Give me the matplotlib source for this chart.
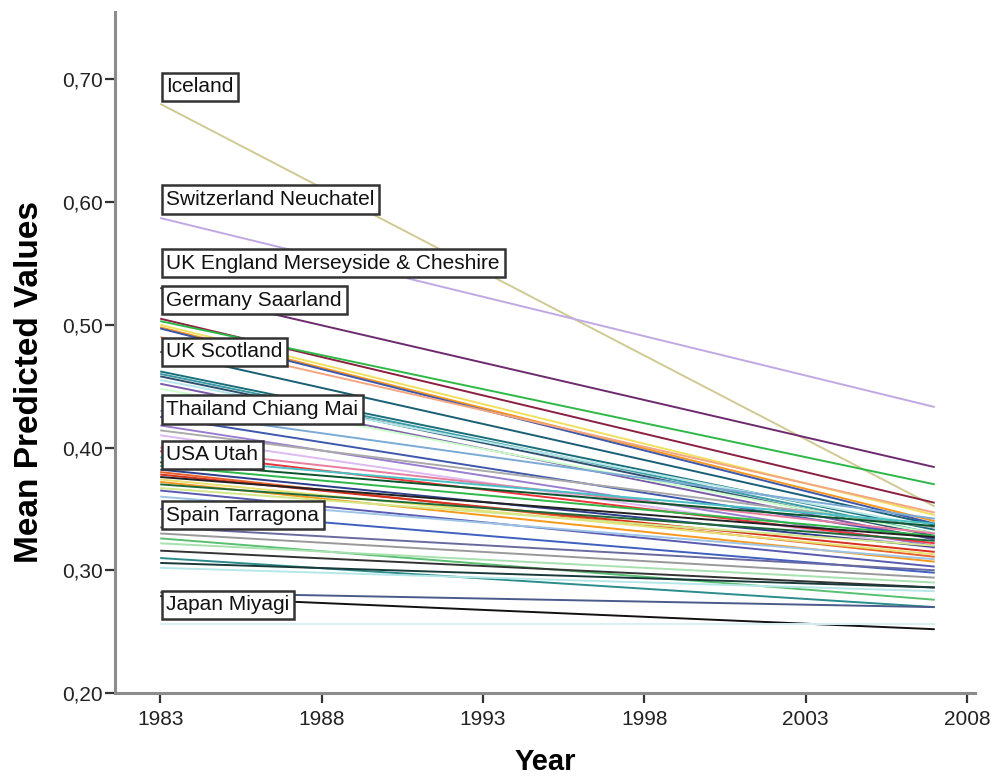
import matplotlib
matplotlib.use("Agg")
import matplotlib.pyplot as plt
from matplotlib.ticker import FuncFormatter

plt.rcParams['font.family'] = ['Liberation Sans', 'DejaVu Sans']

# one straight line per region: predicted value in 1983 and in 2007
years = [1983, 2007]

start_vals = [0.680, 0.587, 0.530, 0.505, 0.503, 0.500, 0.498, 0.497, 0.490,
              0.478, 0.462, 0.460, 0.458, 0.455, 0.452, 0.448,
              0.430, 0.425, 0.418, 0.414, 0.410,
              0.400, 0.397, 0.392, 0.388, 0.385, 0.382,
              0.380, 0.378, 0.376, 0.374, 0.372, 0.370, 0.367, 0.365,
              0.360, 0.350, 0.335, 0.330, 0.326, 0.322, 0.316, 0.310,
              0.306, 0.302, 0.282, 0.279, 0.256]
end_vals = [0.352, 0.433, 0.384, 0.355, 0.370, 0.345, 0.340, 0.338, 0.347,
            0.337, 0.333, 0.330, 0.328, 0.335, 0.325, 0.330,
            0.342, 0.326, 0.320, 0.335, 0.318,
            0.330, 0.322, 0.338, 0.336, 0.328, 0.319,
            0.311, 0.315, 0.327, 0.313, 0.307, 0.324, 0.320, 0.303,
            0.309, 0.298, 0.300, 0.294, 0.276, 0.290, 0.286, 0.270,
            0.286, 0.283, 0.270, 0.252, 0.256]
line_colors = ['#cfca94', '#c0a8e4', '#6e2a6e', '#8b2040', '#2eb848', '#f0e060',
               '#f8981d', '#3e58ac', '#f4a582',
               '#1a5f76', '#1a6e7a', '#3a9ca5', '#2f4f6f', '#b6e7e8', '#7c5ca8',
               '#ccffcc',
               '#7aaad5', '#3e58ac', '#9a7fd1', '#aaaaaa', '#ddbaf1',
               '#e87da0', '#ef3338', '#48c2c5', '#0a562c', '#2eb848', '#2f3e8c',
               '#e8622c', '#d7301f', '#222222', '#e8e070', '#f8981d', '#1e6b3a',
               '#d4e88a', '#5a5ab0',
               '#9ec5e8', '#4060c0', '#6a6aa0', '#999999', '#58c070', '#a8e0b0',
               '#333333', '#2a8c8c', '#1a3a3a', '#b6e7e8', '#4a5a8a', '#111111',
               '#d8f0f0']

label_names = ['Iceland', 'Switzerland Neuchatel', 'UK England Merseyside & Cheshire',
               'Germany Saarland', 'UK Scotland', 'Thailand Chiang Mai', 'USA Utah',
               'Spain Tarragona', 'Japan Miyagi']
label_y = [0.694, 0.602, 0.550, 0.520, 0.478, 0.431, 0.394, 0.345, 0.272]

xticks = [1983, 1988, 1993, 1998, 2003, 2008]
yticks = [0.20, 0.30, 0.40, 0.50, 0.60, 0.70]

fig = plt.figure(figsize=(9.96, 7.84), dpi=100)
ax = fig.add_axes([0.1155, 0.116, 0.8635, 0.869])

for s, e, c in zip(start_vals, end_vals, line_colors):
    ax.plot(years, [s, e], color=c, linewidth=1.4, solid_capstyle='butt')

for name, y in zip(label_names, label_y):
    ax.annotate(name, xy=(years[0], y), xytext=(4.5, 0), textcoords='offset points',
                ha='left', va='center', fontsize=15, color='#111111',
                bbox=dict(boxstyle='square,pad=0.22', facecolor='white',
                          edgecolor='#333333', linewidth=1.8), zorder=5)

ax.set_xlim(1981.6, 2008.25)
ax.set_ylim(0.20, 0.755)
ax.set_xticks(xticks)
ax.set_yticks(yticks)
ax.yaxis.set_major_formatter(FuncFormatter(lambda v, p: f"{v:.2f}".replace('.', ',')))

for side in ['top', 'right']:
    ax.spines[side].set_visible(False)
for side in ['left', 'bottom']:
    ax.spines[side].set_color('#8c8c8c')
    ax.spines[side].set_linewidth(2.2)

ax.tick_params(axis='both', direction='out', length=7, width=1.6, color='#333333',
               labelsize=15, labelcolor='#222222')
ax.tick_params(axis='y', pad=2)
ax.tick_params(axis='x', pad=5)

ax.set_xlabel('Year', fontsize=21, fontweight='bold', labelpad=14)
ax.set_ylabel('Mean Predicted Values', fontsize=24, fontweight='bold')
ax.yaxis.set_label_coords(-0.082, 0.456)

fig.savefig('out.png', dpi=100, facecolor='white')
